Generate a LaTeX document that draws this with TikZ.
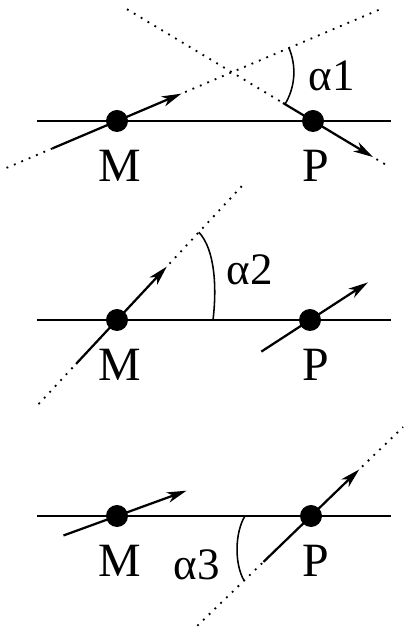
\documentclass[tikz,border=0pt]{standalone}
\usepackage{fontspec}
\setmainfont{Liberation Serif}
\usetikzlibrary{arrows.meta}
\tikzset{
  pt/.style={circle,fill=black,inner sep=0pt,minimum size=0.55cm},
  lbl/.style={font=\fontsize{34}{40}\selectfont,inner sep=0pt},
  anglbl/.style={font=\fontsize{32}{36}\selectfont,inner sep=0pt},
  track/.style={line width=1.4pt},
  dots/.style={line width=1.3pt,dash pattern=on 1.3pt off 4.4pt},
  vec/.style={line width=1.6pt,-{Stealth[length=14pt,width=7.5pt,inset=4pt]}},
  arcline/.style={line width=1.1pt}
}

\begin{document}
\begin{tikzpicture}[x=0.025cm,y=0.025cm]
  \useasboundingbox (0,0) rectangle (409,627);
  % Panel 1: the two directions cross above the line
  \begin{scope}[shift={(0,506)}]
    \node[pt] (M1) at (117,0) {};
    \node[pt] (P1) at (313,0) {};
    \coordinate (l1) at (37,0);
    \coordinate (r1) at (391,0);
    \draw[track] (l1) -- (r1);
    \path (M1.center) ++(203:120) coordinate (m1a)
          (M1.center) ++(203:70) coordinate (m1b)
          (M1.center) ++(23:70) coordinate (m1c)
          (M1.center) ++(23:74) coordinate (m1d)
          (M1.center) ++(23:290) coordinate (m1e)
          (M1.center) ++(23:124.8) coordinate (x1);
    \path (P1.center) ++(149:217) coordinate (p1a)
          (P1.center) ++(149:35) coordinate (p1b)
          (P1.center) ++(-31:70) coordinate (p1c)
          (P1.center) ++(-31:74) coordinate (p1d)
          (P1.center) ++(-31:88) coordinate (p1e);
    \draw[dots] (m1a) -- (m1b);
    \draw[vec] (m1b) -- (m1c);
    \draw[dots] (m1d) -- (m1e);
    \draw[dots] (p1a) -- (p1b);
    \draw[vec] (p1b) -- (p1c);
    \draw[dots] (p1d) -- (p1e);
    \draw[arcline] (x1) ++(23:62) arc[start angle=23,end angle=-31,radius=62];
    \node[anglbl] (a1) at (332,45) {α1};
    \node[lbl] (m1lab) at (120,-45) {M};
    \node[lbl] (p1lab) at (316,-45) {P};
  \end{scope}
  % Panel 2
  \begin{scope}[shift={(0,307)}]
    \node[pt] (M2) at (117,0) {};
    \node[pt] (P2) at (310,0) {};
    \coordinate (l2) at (37,0);
    \coordinate (r2) at (391,0);
    \draw[track] (l2) -- (r2);
    \path (M2.center) ++(227:115) coordinate (m2a)
          (M2.center) ++(227:60) coordinate (m2b)
          (M2.center) ++(47:73) coordinate (m2c)
          (M2.center) ++(47:77) coordinate (m2d)
          (M2.center) ++(47:188) coordinate (m2e)
          (M2.center) ++(0:96) coordinate (k2a)
          (M2.center) ++(47:120) coordinate (k2b);
    \path (P2.center) ++(213:58) coordinate (p2b)
          (P2.center) ++(33:69) coordinate (p2c);
    \draw[dots] (m2a) -- (m2b);
    \draw[vec] (m2b) -- (m2c);
    \draw[dots] (m2d) -- (m2e);
    \draw[vec] (p2b) -- (p2c);
    \draw[arcline] (k2a) .. controls +(4,33) and +(16,-17) .. (k2b);
    \node[anglbl] (a2) at (250,50) {α2};
    \node[lbl] (m2lab) at (120,-45) {M};
    \node[lbl] (p2lab) at (316,-45) {P};
  \end{scope}
  % Panel 3
  \begin{scope}[shift={(0,111)}]
    \node[pt] (M3) at (117,0) {};
    \node[pt] (P3) at (311,0) {};
    \coordinate (l3) at (37,0);
    \coordinate (r3) at (391,0);
    \draw[track] (l3) -- (r3);
    \path (M3.center) ++(200:57) coordinate (m3b)
          (M3.center) ++(20:74) coordinate (m3c);
    \path (P3.center) ++(224:158) coordinate (p3a)
          (P3.center) ++(224:66) coordinate (p3b)
          (P3.center) ++(44:67) coordinate (p3c)
          (P3.center) ++(44:71) coordinate (p3d)
          (P3.center) ++(44:128) coordinate (p3e)
          (P3.center) ++(180:66) coordinate (k3a)
          (P3.center) ++(224:93) coordinate (k3b);
    \draw[vec] (m3b) -- (m3c);
    \draw[dots] (p3a) -- (p3b);
    \draw[vec] (p3b) -- (p3c);
    \draw[dots] (p3d) -- (p3e);
    \draw[arcline] (k3a) .. controls +(-10,-16) and +(-10,17) .. (k3b);
    \node[anglbl] (a3) at (197,-49) {α3};
    \node[lbl] (m3lab) at (120,-45) {M};
    \node[lbl] (p3lab) at (316,-45) {P};
  \end{scope}
\end{tikzpicture}
\end{document}
